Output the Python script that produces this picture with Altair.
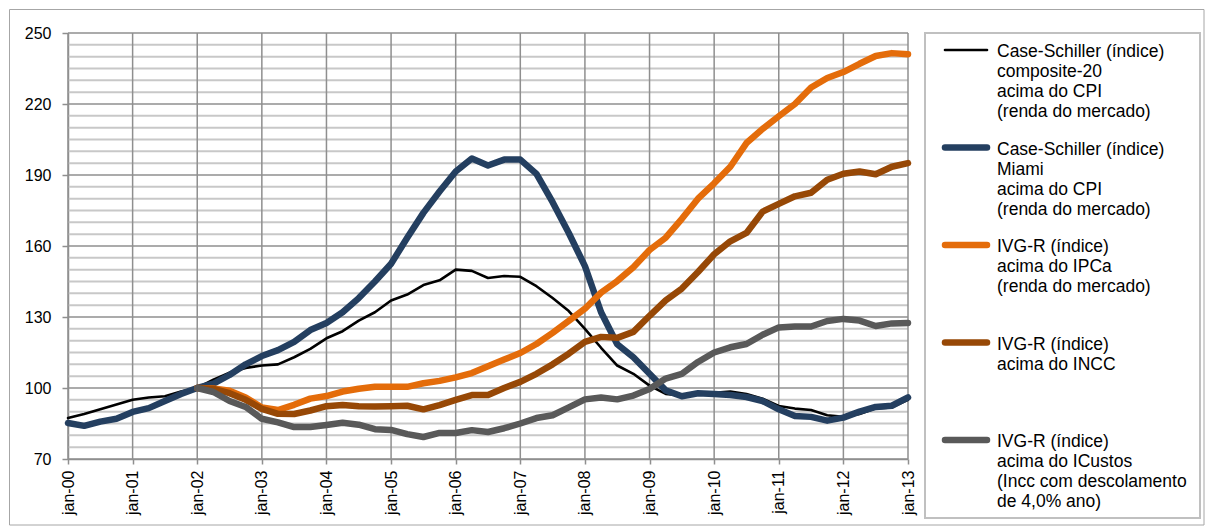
import altair as alt
import pandas as pd

# Quarterly observations, Jan 2000 to Jan 2013
trimestres = [f"{a}-{m:02d}" for a in range(2000, 2013) for m in (1, 4, 7, 10)] + ["2013-01"]

# Case-Shiller composite-20, deflated by CPI (2002 = 100)
cs_composite = [87.3, 89, 91, 93, 95, 96, 96.5, 98.5, 100, 103.5, 106.5, 108.5, 109.5,
                110, 113, 116.5, 121, 124, 128.5, 132, 137, 139.5, 143.5, 145.5, 150,
                149.5, 146.5, 147.3, 147, 143, 138, 132.5, 125, 117, 109.5, 106, 101,
                97.5, 96.8, 97.5, 98, 98.5, 97.5, 95.5, 92.4, 91.3, 90.7, 88.5, 87.8,
                89, 91.4, 91.8, 95]

# Case-Shiller Miami, deflated by CPI
cs_miami = [85.2, 84, 85.8, 87, 89.9, 91.5, 94.5, 97.5, 100, 101.8, 105.5, 110, 113.5,
            116, 119.5, 124.5, 127.5, 132, 138, 145, 152.5, 163.5, 174, 183, 191.5,
            197, 194, 196.5, 196.5, 190.5, 178.5, 165.5, 151.5, 132, 118.5, 113, 106,
            99, 96.5, 97.8, 97.5, 97, 96.2, 94.5, 91, 88.2, 87.8, 86.2, 87.5,
            90, 92, 92.5, 96]

# IVG-R series start in Jan 2002
ivg_ipca = [100, 99.8, 98.8, 96, 91.8, 90.7, 92.9, 95.5, 96.6,
            98.5, 99.7, 100.5, 100.5, 100.5, 102, 103, 104.5,
            106.3, 109.2, 112, 114.8, 118.6, 123.3, 128.4, 133.5,
            140.3, 145.2, 151, 158.3, 163.5, 171.5, 180, 186.5,
            193.5, 203.5, 209.5, 214.8, 220, 227, 231, 233.5,
            237, 240.3, 241.5, 241]

ivg_incc = [100, 99.6, 97.8, 95, 91.2, 89.1, 89, 90.5, 92.3,
            92.8, 92.3, 92.2, 92.3, 92.5, 91, 92.8, 95,
            97, 97, 100, 102.6, 106, 110, 114.5, 119.5,
            121.6, 121.2, 123.7, 130.5, 137, 142, 149, 156.5,
            162, 165.5, 174.5, 177.8, 181, 182.5, 188, 190.5,
            191.5, 190.3, 193.5, 195]

ivg_icustos = [100, 98.3, 94.5, 92, 87, 85.5, 83.5, 83.5, 84.4,
               85.3, 84.5, 82.6, 82.3, 80.5, 79.3, 81, 81,
               82.2, 81.4, 83, 85, 87.3, 88.5, 91.8, 95.2,
               96, 95.2, 96.8, 99.6, 104, 106, 111, 115,
               117.2, 118.6, 122.5, 125.6, 126, 126, 128.3, 129.2,
               128.5, 126.2, 127.3, 127.5]

# Legend texts ("|" marks a line break)
series_nomes = [
    "Case-Schiller (índice)|composite-20|acima do CPI|(renda do mercado)",
    "Case-Schiller (índice)|Miami|acima do CPI|(renda do mercado)",
    "IVG-R (índice)|acima do IPCa|(renda do mercado)",
    "IVG-R (índice)|acima do INCC",
    "IVG-R (índice)|acima do ICustos|(Incc com descolamento|de 4,0% ano)",
]
series_cores = ["#000000", "#243f60", "#e46c0a", "#974806", "#595959"]
series_larguras = [2.6, 6.5, 6.5, 6.5, 6.5]

anos_x = [2000, 2001, 2002, 2003, 2004, 2005, 2006, 2007, 2008, 2009, 2010, 2011, 2012, 2013]
ticks_y = [70, 100, 130, 160, 190, 220, 250]
grade_menor = [v for v in range(70, 251, 5) if v not in ticks_y]


def ano_decimal(t):
    a, m = t.split("-")
    return int(a) + (int(m) - 1) / 12


linhas = []
todas = [cs_composite, cs_miami, ivg_ipca, ivg_incc, ivg_icustos]
for nome, largura, valores in zip(series_nomes, series_larguras, todas):
    datas = trimestres[len(trimestres) - len(valores):]
    for ordem, (t, v) in enumerate(zip(datas, valores)):
        linhas.append({"serie": nome, "ano": ano_decimal(t), "indice": v,
                       "ordem": ordem, "largura": largura})
dados = pd.DataFrame(linhas)

legenda = pd.DataFrame({"serie": series_nomes, "pos": list(range(len(series_nomes))),
                        "largura": series_larguras})

FONTE = "Liberation Sans"
CINZA = "#8f8f8f"
x_scale = alt.Scale(domain=[2000, 2013], nice=False, zero=False)
y_scale = alt.Scale(domain=[70, 250], nice=False, zero=False)
cor_scale = alt.Scale(domain=series_nomes, range=series_cores)

eixo_x = alt.Axis(values=anos_x, labelExpr="'jan-' + slice(toString(datum.value), 2)",
                  labelAngle=270, labelAlign="right", labelBaseline="middle",
                  labelFontSize=16, labelFont=FONTE, labelColor="#000",
                  labelPadding=6, tickSize=5, tickColor=CINZA, tickWidth=1.5,
                  domainColor=CINZA, domainWidth=1.5, grid=False, title=None)
eixo_y = alt.Axis(values=ticks_y, labelFontSize=16, labelFont=FONTE, labelColor="#000",
                  labelPadding=11, tickSize=6, tickColor=CINZA, tickWidth=1.5,
                  domainColor=CINZA, domainWidth=1.5, grid=False, title=None,
                  minExtent=58, maxExtent=58)

# Thin outer frame around the whole figure
moldura = alt.Chart(pd.DataFrame({"f": [0]})).mark_rect(
    fill=None, stroke="#a6a6a6", strokeWidth=1
).encode(x=alt.value(-58.5), x2=alt.value(1136), y=alt.value(-23.5), y2=alt.value(492))

grade_fina = alt.Chart(pd.DataFrame({"v": grade_menor})).mark_rule(
    color="#c8c8c8", strokeWidth=2
).encode(y=alt.Y("v:Q", scale=y_scale, axis=eixo_y))

grade_h = alt.Chart(pd.DataFrame({"v": ticks_y})).mark_rule(
    color=CINZA, strokeWidth=1.5
).encode(y=alt.Y("v:Q", scale=y_scale, axis=eixo_y))

grade_v = alt.Chart(pd.DataFrame({"a": anos_x})).mark_rule(
    color=CINZA, strokeWidth=1.5
).encode(x=alt.X("a:Q", scale=x_scale, axis=eixo_x))

# One layer per series so the drawing order follows the series order
curvas = [
    alt.Chart(dados).transform_filter(alt.datum.serie == nome)
    .mark_line(strokeCap="round", strokeJoin="round").encode(
        x=alt.X("ano:Q", scale=x_scale, axis=eixo_x),
        y=alt.Y("indice:Q", scale=y_scale, axis=eixo_y),
        color=alt.Color("serie:N", scale=cor_scale, legend=None),
        strokeWidth=alt.StrokeWidth("largura:Q", scale=None),
        order="ordem:Q",
    )
    for nome in series_nomes
]

grafico = alt.layer(moldura, grade_fina, grade_h, grade_v, *curvas).properties(
    width=840, height=426, view=alt.ViewBackground(stroke=None)
)

# Legend panel: one key line and one multi-line label per series
pos_y = alt.Y("pos:Q", scale=alt.Scale(domain=[0, 4], range=[17, 407]), axis=None)
chaves = alt.Chart(legenda).mark_rule(strokeCap="round").encode(
    x=alt.value(20), x2=alt.value(62), y=pos_y,
    color=alt.Color("serie:N", scale=cor_scale, legend=None),
    strokeWidth=alt.StrokeWidth("largura:Q", scale=None),
)
rotulos = alt.Chart(legenda).mark_text(
    align="left", baseline="top", dy=-7, font=FONTE, fontSize=17.5,
    lineBreak="|", lineHeight=20, color="#000"
).encode(x=alt.value(72), y=pos_y, text="serie:N")

painel_legenda = alt.layer(chaves, rotulos).properties(
    width=275, height=485,
    view=alt.ViewBackground(stroke="#c0c0c0", strokeWidth=2)
)

chart = alt.hconcat(grafico, painel_legenda, spacing=17, bounds="flush").properties(
    padding={"left": 9, "top": 9, "right": 0, "bottom": 0},
    background="white",
)

chart.save("out.html", embed_options={"renderer": "svg", "actions": False})
